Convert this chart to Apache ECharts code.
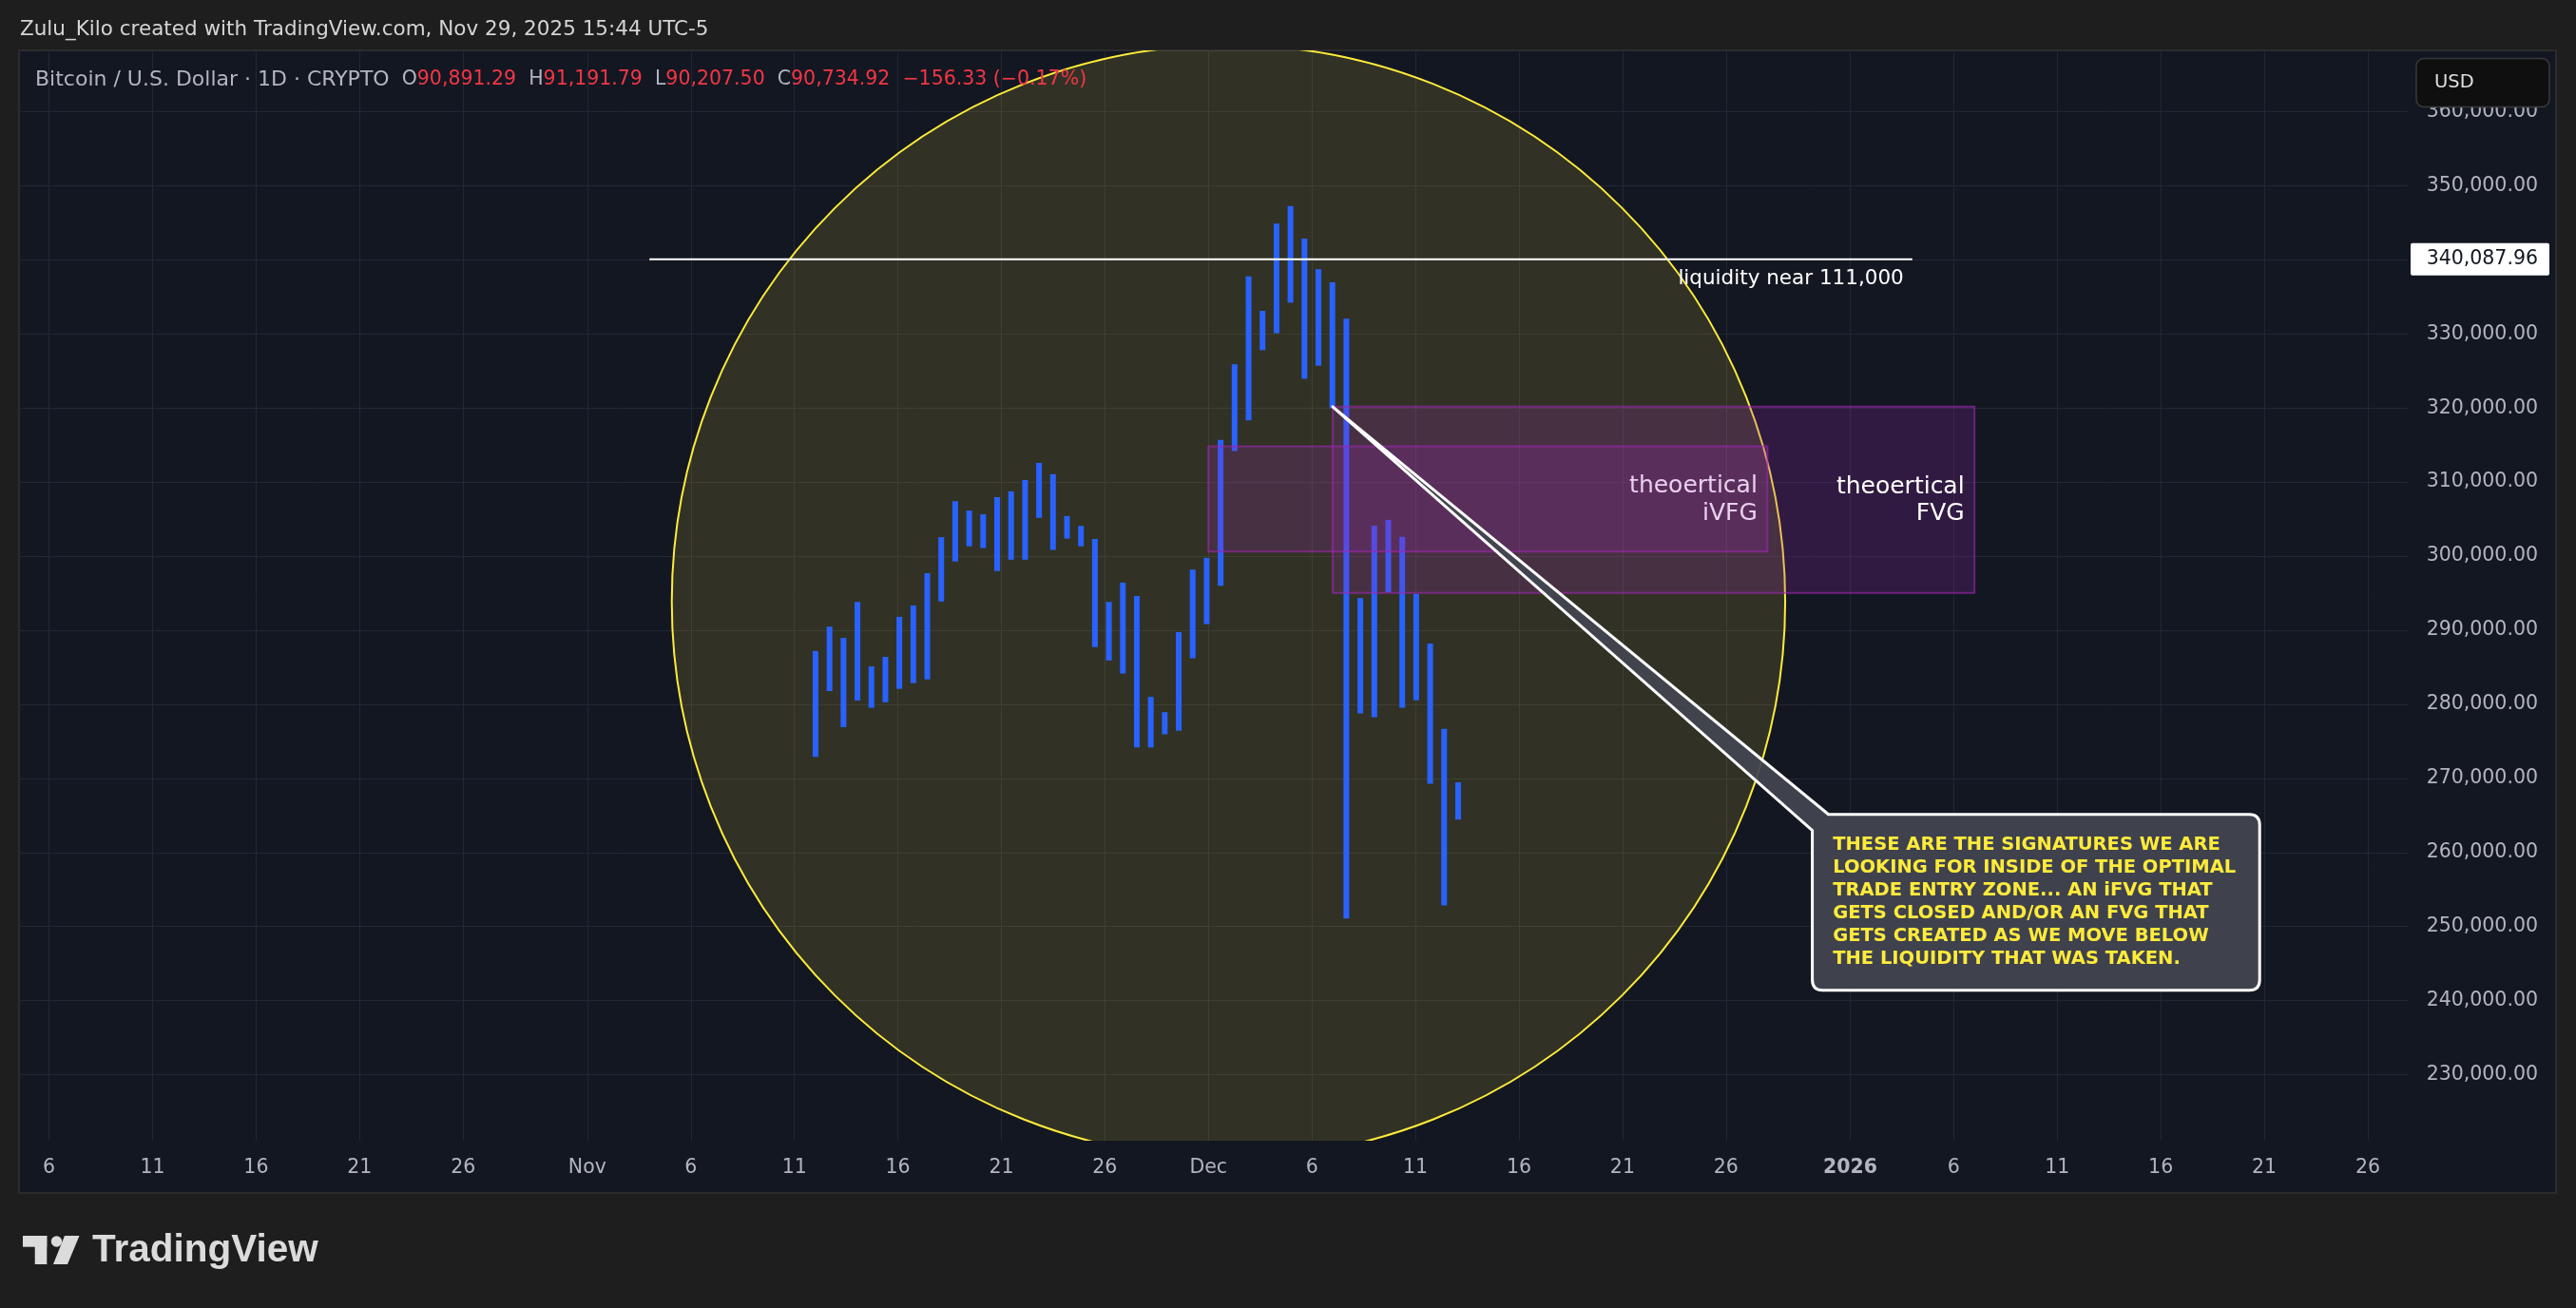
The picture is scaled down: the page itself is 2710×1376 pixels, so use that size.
<!DOCTYPE html>
<html><head><meta charset="utf-8">
<script src="https://cdn.jsdelivr.net/npm/echarts@6/dist/echarts.min.js"></script>
<style>html,body{margin:0;padding:0;background:#1e1e1e;overflow:hidden}#c{width:2710px;height:1376px;}</style>
</head><body><div id="c"></div>
<script>
// ---- DATA ----
// High / low of each bar (left to right)
const barHigh = [287190, 290485, 288958, 293822, 285121, 286405, 291807, 293334, 297697, 302560,
  307423, 306140, 305653, 307962, 308745, 310272, 312582, 311055, 305409, 304087,
  302316, 293822, 296426, 294604, 281002, 278936, 289741, 298184, 299763, 315687,
  325901, 337758, 333113, 344893, 347254, 342865, 338733, 336976, 332061, 294348,
  304100, 304896, 302599, 294874, 288201, 276678, 269466];
const barLow = [272905, 281785, 276922, 280515, 279527, 280271, 282080, 282863, 283363, 293873,
  299275, 301328, 301084, 297992, 299519, 299519, 305165, 300841, 302367, 301328,
  287726, 285917, 284146, 274176, 274176, 275946, 276434, 286212, 290819, 295990,
  314186, 318318, 327801, 330098, 334217, 323938, 325709, 319947, 251078, 278769,
  278243, 295130, 279552, 280541, 269274, 252836, 264436];
// Date tick labels on the time axis
const tickDates = ['2025-10-06','2025-10-11','2025-10-16','2025-10-21','2025-10-26',
  '2025-11-01','2025-11-06','2025-11-11','2025-11-16','2025-11-21','2025-11-26',
  '2025-12-01','2025-12-06','2025-12-11','2025-12-16','2025-12-21','2025-12-26',
  '2026-01-01','2026-01-06','2026-01-11','2026-01-16','2026-01-21','2026-01-26'];
const priceTicks = [230000,240000,250000,260000,270000,280000,290000,300000,310000,320000,330000,340000,350000,360000];
const dayBase = '2025-11-01';
// Annotations: x in days since 2025-11-01, y in price
const liquidityLine = [3, 64, 340087.96];
const liquidityText = 'liquidity near 111,000';
const circleCenter = [30.97, 293850];
const circleEdge = [4.08, 293850];
const gapBoxes = [[30, 57, 314830, 300620], [36, 67, 320170, 295050]];
const gapLabels = ['theoertical\niVFG', 'theoertical\nFVG'];
const calloutAnchor = [36, 320170];
const calloutCorner = [59.17, 265140];
const calloutLines = ['THESE ARE THE SIGNATURES WE ARE','LOOKING FOR INSIDE OF THE OPTIMAL',
  'TRADE ENTRY ZONE... AN iFVG THAT','GETS CLOSED AND/OR AN FVG THAT',
  'GETS CREATED AS WE MOVE BELOW','THE LIQUIDITY THAT WAS TAKEN.'];
const headerText = 'Zulu_Kilo created with TradingView.com, Nov 29, 2025 15:44 UTC-5';

// ---- CHART ----
const FONT = '"DejaVu Sans", sans-serif';
const base = Date.parse(dayBase);
const DAY = 86400000;
const MON = ['Jan','Feb','Mar','Apr','May','Jun','Jul','Aug','Sep','Oct','Nov','Dec'];
const tickDays = tickDates.map(s => (Date.parse(s) - base) / DAY);
const barData = barHigh.map((h, i) => [i, h, barLow[i]]);

const chart = echarts.init(document.getElementById('c'), null, {renderer: 'canvas'});
const gridColor = '#232734';
const labelColor = '#b2b5be';

chart.setOption({
  animation: false,
  backgroundColor: '#1e1e1e',
  grid: {left: 20, right: 177, top: 53, bottom: 176, containLabel: false},
  xAxis: [{
    type: 'value', min: -27.45, max: 87.93,
    axisLine: {show: false},
    axisTick: {show: false, customValues: tickDays},
    splitLine: {show: true, lineStyle: {color: gridColor, width: 1}},
    axisLabel: {
      customValues: tickDays, color: labelColor, fontSize: 20.5, fontFamily: FONT,
      margin: 29, verticalAlign: 'middle',
      formatter: v => {
        const d = new Date(base + Math.round(v) * DAY);
        if (d.getUTCDate() === 1) return d.getUTCMonth() === 0 ? '{b|' + d.getUTCFullYear() + '}' : MON[d.getUTCMonth()];
        return String(d.getUTCDate());
      },
      rich: {b: {fontWeight: 'bold', fontSize: 20.5, fontFamily: FONT, color: labelColor}}
    }
  }, {
    type: 'value', min: -57.02, max: 113.98, show: false
  }],
  yAxis: {
    type: 'value', position: 'right', min: 221090, max: 368273,
    axisLine: {show: false},
    axisTick: {show: false, customValues: priceTicks},
    splitLine: {show: true, lineStyle: {color: gridColor, width: 1}},
    axisLabel: {
      customValues: priceTicks, color: labelColor, fontSize: 20.5, fontFamily: FONT,
      align: 'right', margin: 137,
      formatter: v => v.toLocaleString('en-US', {minimumFractionDigits: 2, maximumFractionDigits: 2})
    }
  },
  graphic: [
    {type: 'rect', z: -100, shape: {x: 20, y: 53, width: 2669, height: 1202}, style: {fill: '#131722', stroke: '#2c2c2e', lineWidth: 2}},
    {type: 'text', x: 21, y: 31.5, style: {text: headerText, fill: '#d4d4d4', fontSize: 21.5, fontFamily: FONT, verticalAlign: 'middle'}},
    {type: 'text', x: 37, y: 84, z: 50, style: {
      text: '{t|Bitcoin / U.S. Dollar · 1D · CRYPTO}{g|  O}{r|90,891.29}{g|  H}{r|91,191.79}{g|  L}{r|90,207.50}{g|  C}{r|90,734.92}{r|  −156.33 (−0.17%)}',
      verticalAlign: 'middle',
      rich: {t: {fill: labelColor, fontSize: 22, fontFamily: FONT},
             g: {fill: labelColor, fontSize: 20.5, fontFamily: FONT},
             r: {fill: '#f23645', fontSize: 20.5, fontFamily: FONT}}
    }},
    {type: 'rect', z: 100, shape: {x: 2542, y: 61.5, width: 140, height: 51, r: 8}, style: {fill: '#0f0f0f', stroke: '#3a3a3a', lineWidth: 1.5}},
    {type: 'text', z: 101, x: 2561, y: 87, style: {text: 'USD', fill: '#dedede', fontSize: 19.5, fontFamily: FONT, verticalAlign: 'middle'}},
    {type: 'rect', shape: {x: 24, y: 1300, width: 25.3, height: 11.7}, style: {fill: '#dbdbdb'}},
    {type: 'rect', shape: {x: 36.7, y: 1300, width: 12.6, height: 30}, style: {fill: '#dbdbdb'}},
    {type: 'circle', shape: {cx: 59.5, cy: 1306, r: 5.7}, style: {fill: '#dbdbdb'}},
    {type: 'polygon', shape: {points: [[68, 1300], [83.5, 1300], [71, 1330], [56, 1330]]}, style: {fill: '#dbdbdb'}},
    {type: 'text', x: 97, y: 1316, style: {text: 'TradingView', fill: '#dbdbdb', fontSize: 40.5, fontWeight: 'bold', fontFamily: '"Liberation Sans", sans-serif', verticalAlign: 'middle'}}
  ],
  series: [
    { // circle
      type: 'custom', xAxisIndex: 0, clip: true, z: 1,
      data: [circleCenter.concat(circleEdge)],
      renderItem: (params, api) => {
        const c = api.coord([api.value(0), api.value(1)]);
        const e = api.coord([api.value(2), api.value(3)]);
        const r = Math.hypot(c[0] - e[0], c[1] - e[1]);
        return {type: 'circle', shape: {cx: c[0], cy: c[1], r: r}, style: {fill: 'rgba(255,235,59,0.13)', stroke: '#ffeb3b', lineWidth: 2}};
      }
    },
    { // bars
      type: 'custom', xAxisIndex: 1, z: 2,
      data: barData,
      renderItem: (params, api) => {
        const p1 = api.coord([api.value(0), api.value(1)]);
        const p2 = api.coord([api.value(0), api.value(2)]);
        return {type: 'rect', shape: {x: p1[0] - 3, y: p1[1], width: 6, height: p2[1] - p1[1]}, style: {fill: '#2962ff'}};
      }
    },
    { // gap boxes
      type: 'custom', xAxisIndex: 0, z: 3,
      data: gapBoxes,
      renderItem: (params, api) => {
        const a = api.coord([api.value(0), api.value(2)]);
        const b = api.coord([api.value(1), api.value(3)]);
        return {type: 'group', children: [
          {type: 'rect', shape: {x: a[0], y: a[1], width: b[0] - a[0], height: b[1] - a[1]},
           style: {fill: 'rgba(156,39,176,0.22)', stroke: 'rgba(156,39,176,0.62)', lineWidth: 2}},
          {type: 'text', style: {text: gapLabels[params.dataIndex], x: b[0] - 10.5, y: (a[1] + b[1]) / 2 + 1,
            align: 'right', verticalAlign: 'middle', fill: '#ffffff', fontSize: 25, fontFamily: FONT, lineHeight: 28.5}}
        ]};
      }
    },
    { // liquidity line
      type: 'custom', xAxisIndex: 0, z: 4,
      data: [liquidityLine],
      renderItem: (params, api) => {
        const a = api.coord([api.value(0), api.value(2)]);
        const b = api.coord([api.value(1), api.value(2)]);
        const cs = params.coordSys;
        const px = cs.x + cs.width;
        return {type: 'group', children: [
          {type: 'line', shape: {x1: a[0], y1: a[1], x2: b[0], y2: b[1]}, style: {stroke: '#ffffff', lineWidth: 2}},
          {type: 'text', style: {text: liquidityText, x: b[0] - 9, y: a[1] + 21, align: 'right', verticalAlign: 'middle',
            fill: '#ffffff', fontSize: 21.5, fontFamily: FONT}},
          {type: 'rect', shape: {x: px + 3, y: a[1] - 17, width: 146, height: 34, r: 2}, style: {fill: '#ffffff'}},
          {type: 'text', style: {text: api.value(2).toLocaleString('en-US', {minimumFractionDigits: 2}), x: px + 137, y: a[1],
            align: 'right', verticalAlign: 'middle', fill: '#131722', fontSize: 20.5, fontFamily: FONT}}
        ]};
      }
    },
    { // callout
      type: 'custom', xAxisIndex: 0, z: 5,
      data: [calloutAnchor.concat(calloutCorner)],
      renderItem: (params, api) => {
        const t = api.coord([api.value(0), api.value(1)]);
        const c = api.coord([api.value(2), api.value(3)]);
        const x0 = c[0], y0 = c[1], x1 = x0 + 470.6, y1 = y0 + 185, r = 11, k = 17;
        const d = `M${x0 + k} ${y0} L${x1 - r} ${y0} Q${x1} ${y0} ${x1} ${y0 + r} L${x1} ${y1 - r} Q${x1} ${y1} ${x1 - r} ${y1} ` +
          `L${x0 + r} ${y1} Q${x0} ${y1} ${x0} ${y1 - r} L${x0} ${y0 + k} L${t[0]} ${t[1]} Z`;
        const children = [{type: 'path', shape: {pathData: d}, style: {fill: 'rgba(67,70,81,0.93)', stroke: '#ffffff', lineWidth: 3, lineJoin: 'round'}}];
        calloutLines.forEach((s, i) => children.push({type: 'text', style: {text: s, x: x0 + 21.6, y: y0 + 32.5 + i * 23.9,
          verticalAlign: 'middle', fill: '#ffeb3b', fontSize: 19.5, fontWeight: 'bold', fontFamily: FONT}}));
        return {type: 'group', children: children};
      }
    }
  ]
});
</script></body></html>
